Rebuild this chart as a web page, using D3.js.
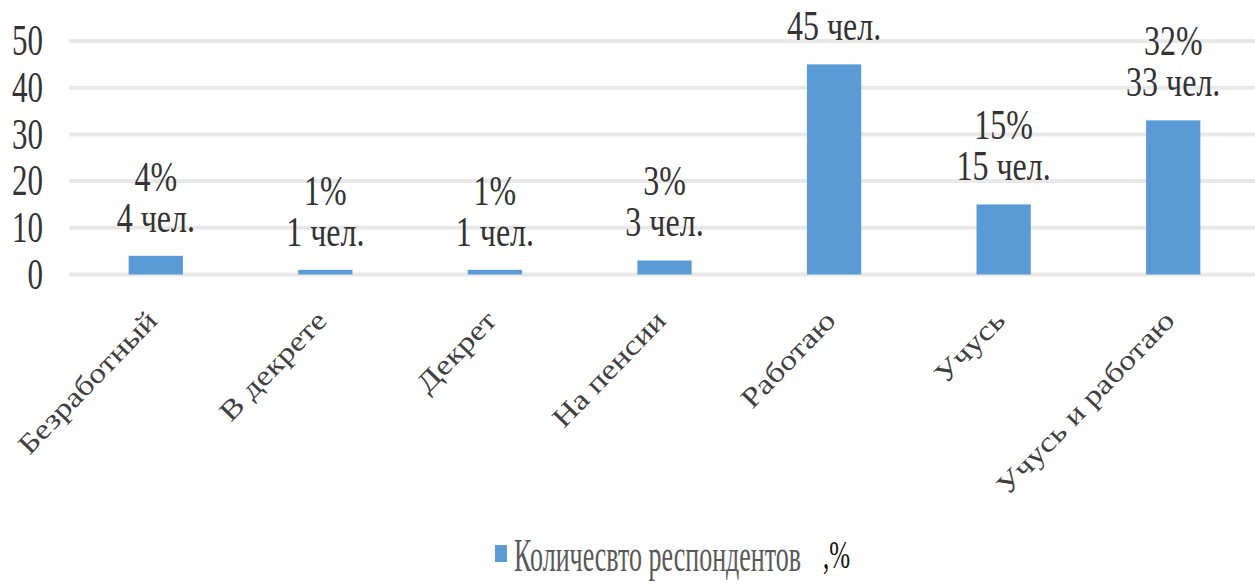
<!DOCTYPE html>
<html>
<head>
<meta charset="utf-8">
<script src="https://cdn.jsdelivr.net/npm/d3@7"></script>
<style>
  html, body { margin: 0; padding: 0; background: #fff; }
  svg { display: block; }
  text { font-family: "Liberation Serif", "Times New Roman", serif; }
</style>
</head>
<body>
<svg id="chart" width="1255" height="584"></svg>
<script>
// Respondents by occupation
const categories = ["Безработный", "В декрете", "Декрет", "На пенсии", "Работаю", "Учусь", "Учусь и работаю"];
const counts = [4, 1, 1, 3, 45, 15, 33];
const percents = [4, 1, 1, 3, null, 15, 32];
const yTicks = [0, 10, 20, 30, 40, 50];
const legendLabel = "Количесвто респондентов";
const legendSuffix = ",%";

const svg = d3.select("#chart");
const W = 1255;

const x = d3.scaleBand()
  .domain(categories)
  .range([71, 1258])
  .paddingInner(0.68)
  .paddingOuter(0.34);

const y = d3.scaleLinear()
  .domain([0, 50])
  .range([274.5, 41]);

const barColor = "#5b9bd5";

// gridlines
svg.append("g")
  .selectAll("line")
  .data(yTicks)
  .join("line")
  .attr("x1", 69).attr("x2", W)
  .attr("y1", d => y(d)).attr("y2", d => y(d))
  .attr("stroke", "#e8e8e8")
  .attr("stroke-width", 4);

// y axis tick labels (tall, narrow digits)
svg.append("g")
  .selectAll("text")
  .data(yTicks)
  .join("text")
  .attr("transform", d => `translate(43,${y(d)}) scale(1,1.4)`)
  .attr("text-anchor", "end")
  .attr("dy", "0.33em")
  .attr("font-size", 31)
  .attr("fill", "#333")
  .text(d => d);

// bars
svg.append("g")
  .selectAll("rect")
  .data(categories)
  .join("rect")
  .attr("x", d => x(d))
  .attr("width", x.bandwidth())
  .attr("y", (d, i) => y(counts[i]))
  .attr("height", (d, i) => y(0) - y(counts[i]))
  .attr("fill", barColor);

// value labels: count line
const labels = svg.append("g").attr("fill", "#333").attr("font-size", 32).attr("text-anchor", "middle");
labels.selectAll("text.count")
  .data(categories)
  .join("text")
  .attr("class", "count")
  .attr("transform", (d, i) => `translate(${x(d) + x.bandwidth() / 2},${y(counts[i]) - 24}) scale(1,1.3)`)
  .text((d, i) => `${counts[i]} чел.`);

// value labels: percentage line
labels.selectAll("text.pct")
  .data(categories.map((c, i) => ({ c, i })).filter(o => percents[o.i] !== null))
  .join("text")
  .attr("class", "pct")
  .attr("transform", o => `translate(${x(o.c) + x.bandwidth() / 2},${y(counts[o.i]) - 65}) scale(1,1.3)`)
  .text(o => `${percents[o.i]}%`);

// category labels, rotated
svg.append("g")
  .selectAll("text")
  .data(categories)
  .join("text")
  .attr("transform", d => `translate(${x(d) + x.bandwidth() / 2 + 3},322) rotate(-46) scale(1.2,1)`)
  .attr("text-anchor", "end")
  .attr("font-size", 28)
  .attr("fill", "#404040")
  .text(d => d);

// legend
const lg = svg.append("g");
lg.append("rect")
  .attr("x", 495).attr("y", 545)
  .attr("width", 12).attr("height", 17)
  .attr("fill", barColor);
lg.append("text")
  .attr("transform", "translate(514,571) scale(1,1.75)")
  .attr("font-size", 26)
  .attr("fill", "#595959")
  .text(legendLabel);
lg.append("text")
  .attr("transform", "translate(823,568) scale(1,1.6)")
  .attr("font-size", 25)
  .attr("fill", "#111")
  .text(legendSuffix);
</script>
</body>
</html>
